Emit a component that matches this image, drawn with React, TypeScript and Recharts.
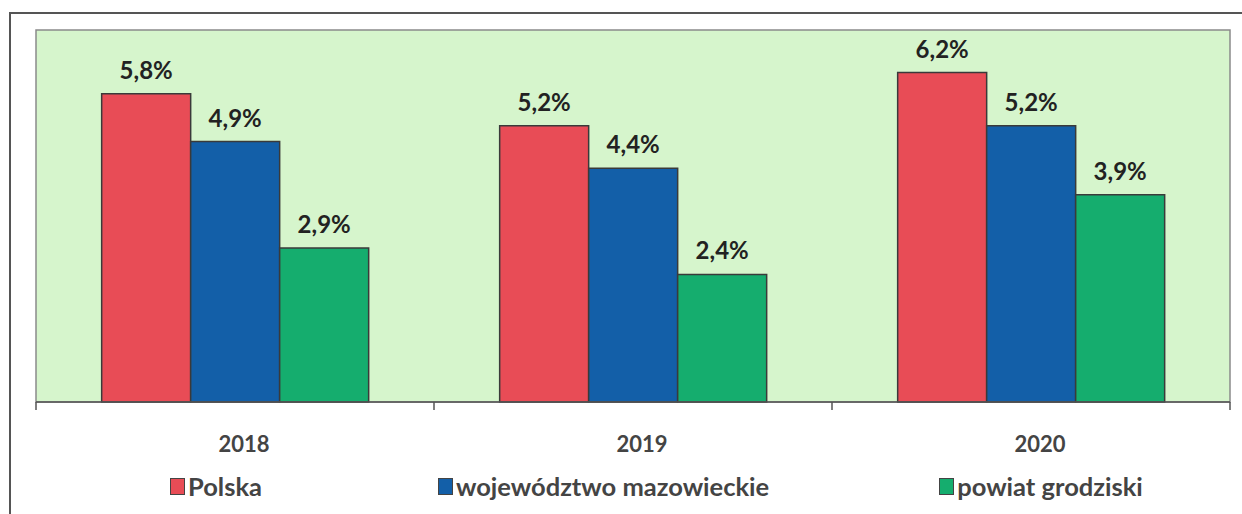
import React from "react";
import { BarChart, Bar, XAxis, YAxis, ReferenceArea, LabelList, Legend } from "recharts";

const years = ["2018", "2019", "2020"];
const polska = [5.8, 5.2, 6.2];
const mazowieckie = [4.9, 4.4, 5.2];
const grodziski = [2.9, 2.4, 3.9];
const seriesNames = ["Polska", "województwo mazowieckie", "powiat grodziski"];
const seriesColors = ["#e84c56", "#135fa8", "#15ad6e"];
const legendGaps = [170, 176, 170];

const data = years.map((y, i) => ({
  year: y,
  polska: polska[i],
  mazowieckie: mazowieckie[i],
  grodziski: grodziski[i],
}));

const FONT = "Lato, 'Open Sans', sans-serif";
const fmt = (v: any) => `${String(v).replace(".", ",")}%`;

const Tick = (props: any) => {
  const { x, y, payload, index, visibleTicksCount, width } = props;
  const count = visibleTicksCount || 3;
  const band = (width || 1194) / count;
  const axisY = y - 8;
  return (
    <g>
      <line x1={x - band / 2} x2={x - band / 2} y1={axisY} y2={axisY + 8} stroke="#555" strokeWidth={1.5} />
      {index === count - 1 && (
        <line x1={x + band / 2} x2={x + band / 2} y1={axisY} y2={axisY + 8} stroke="#555" strokeWidth={1.5} />
      )}
      <text x={x + 9} y={axisY + 50} textAnchor="middle" fontFamily={FONT} fontWeight={700} fontSize={22} fill="#444">
        {payload.value}
      </text>
    </g>
  );
};

const LegendContent = () => (
  <div
    style={{
      display: "flex",
      justifyContent: "flex-start",
      alignItems: "center",
      height: 40,
      paddingTop: 8,
      boxSizing: "border-box",
      fontFamily: FONT,
      fontWeight: 700,
      fontSize: 25.5,
      color: "#444",
    }}
  >
    {seriesNames.map((n, i) => (
      <div key={n} style={{ display: "flex", alignItems: "center", marginLeft: legendGaps[i] }}>
        <span
          style={{
            display: "inline-block",
            width: 13,
            height: 15,
            background: seriesColors[i],
            border: "1.5px solid #444",
            marginRight: 3,
          }}
        />
        <span>{n}</span>
      </div>
    ))}
  </div>
);

const labelStyle = { fontFamily: FONT, fontWeight: 700, fontSize: 24, fill: "#222" } as any;

export default function App() {
  return (
    <div style={{ position: "absolute", left: 0, top: 0, width: 1242, height: 514, background: "#fff", overflow: "hidden" }}>
      <div
        style={{
          position: "absolute",
          left: 9,
          top: 12,
          width: 1250,
          height: 520,
          border: "2px solid #555",
          boxSizing: "border-box",
        }}
      />
      <div style={{ position: "absolute", left: 0, top: 0 }}>
        <BarChart
          width={1242}
          height={514}
          data={data}
          margin={{ top: 30, right: 12, bottom: 12, left: 36 }}
          barCategoryGap="16.5%"
          barGap={0}
        >
          <YAxis hide domain={[0, 7]} />
          <ReferenceArea y1={0} y2={7} fill="#d6f5cc" fillOpacity={1} stroke="#8a8a8a" strokeWidth={1.5} />
          <XAxis
            dataKey="year"
            height={60}
            axisLine={{ stroke: "#555", strokeWidth: 1.5 }}
            tickLine={false}
            tick={<Tick />}
            interval={0}
          />
          <Legend
            verticalAlign="bottom"
            height={40}
            wrapperStyle={{ left: 0, width: 1242 }}
            content={<LegendContent />}
          />
          <Bar dataKey="polska" fill={seriesColors[0]} stroke="#3a3a3a" strokeWidth={1.5} isAnimationActive={false}>
            <LabelList dataKey="polska" position="top" offset={15} formatter={fmt} style={labelStyle} />
          </Bar>
          <Bar dataKey="mazowieckie" fill={seriesColors[1]} stroke="#3a3a3a" strokeWidth={1.5} isAnimationActive={false}>
            <LabelList dataKey="mazowieckie" position="top" offset={15} formatter={fmt} style={labelStyle} />
          </Bar>
          <Bar dataKey="grodziski" fill={seriesColors[2]} stroke="#3a3a3a" strokeWidth={1.5} isAnimationActive={false}>
            <LabelList dataKey="grodziski" position="top" offset={15} formatter={fmt} style={labelStyle} />
          </Bar>
        </BarChart>
      </div>
    </div>
  );
}
